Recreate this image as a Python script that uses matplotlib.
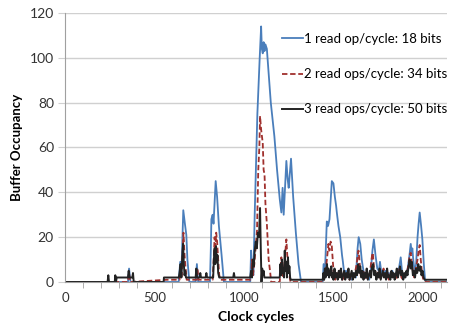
import numpy as np
import matplotlib.pyplot as plt

plt.rcParams['font.family'] = ['Lato', 'DejaVu Sans']

# series 1 : 1 read op/cycle (18 bits)
x1 = [0, 340, 352, 358, 366, 635, 644, 650, 661, 670, 678, 684, 695, 730, 737, 744,
      810, 815, 818, 825, 830, 842, 850, 860, 875, 888, 1035, 1040, 1046, 1053, 1060,
      1075, 1088, 1096, 1100, 1105, 1110, 1115, 1120, 1128, 1150, 1170, 1185, 1200,
      1209, 1216, 1222, 1237, 1244, 1250, 1263, 1275, 1290, 1305, 1319, 1440, 1445,
      1452, 1463, 1470, 1478, 1491, 1500, 1508, 1515, 1519, 1528, 1538, 1548, 1553,
      1560, 1570, 1580, 1590, 1600, 1610, 1625, 1635, 1641, 1650, 1658, 1668, 1680,
      1690, 1700, 1710, 1718, 1726, 1735, 1745, 1754, 1760, 1768, 1780, 1790, 1800,
      1810, 1820, 1829, 1840, 1850, 1860, 1868, 1876, 1884, 1895, 1905, 1915, 1925,
      1932, 1937, 1941, 1946, 1955, 1962, 1970, 1976, 1982, 1990, 1997, 2005, 2012,
      2020, 2130]
y1 = [0, 0, 0, 6, 0, 0, 9, 3, 32, 26, 21, 10, 0, 0, 8, 0,
      0, 15, 28, 30, 26, 45, 38, 25, 12, 0, 0, 14, 5, 3, 30,
      75, 100, 114, 104, 102, 107, 103, 106, 104, 80, 65, 50, 37,
      31, 42, 30, 54, 46, 42, 55, 38, 22, 8, 0, 0, 8,
      3, 27, 25, 28, 45, 44, 38, 34, 31, 25, 20, 12, 9,
      4, 5, 2, 3, 1, 4, 2, 15, 20, 17, 10, 5, 2,
      3, 1, 6, 14, 19, 12, 6, 5, 9, 4, 3, 5, 2,
      4, 3, 5, 2, 4, 3, 7, 11, 4, 2, 3, 6, 12,
      17, 13, 15, 10, 4, 8, 20, 26, 31, 25, 19, 8, 1,
      0, 0]

# series 2 : 2 read ops/cycle (34 bits)
x2 = [0, 350, 358, 364, 570, 640, 646, 652, 658, 662, 668, 672, 680, 735, 740, 746,
      825, 832, 836, 840, 845, 850, 856, 862, 870, 1035, 1040, 1045, 1050, 1058, 1065,
      1073, 1080, 1086, 1090, 1096, 1105, 1110, 1115, 1120, 1128, 1138, 1147, 1152,
      1200, 1204, 1209, 1214, 1220, 1228, 1234, 1237, 1242, 1248, 1254, 1260, 1445,
      1450, 1458, 1466, 1472, 1478, 1484, 1490, 1496, 1502, 1510, 1520, 1530, 1540,
      1550, 1560, 1570, 1580, 1590, 1600, 1610, 1620, 1630, 1636, 1640, 1646, 1652,
      1660, 1670, 1680, 1690, 1700, 1710, 1716, 1720, 1726, 1732, 1740, 1750, 1760,
      1770, 1780, 1790, 1800, 1810, 1820, 1830, 1840, 1850, 1860, 1870, 1880, 1890,
      1900, 1910, 1920, 1926, 1932, 1938, 1945, 1952, 1960, 1970, 1976, 1982, 1988,
      1995, 2002, 2010, 2130]
y2 = [0, 0, 4, 0, 1, 1, 5, 2, 14, 22, 12, 8, 1, 1, 6, 1,
      1, 12, 20, 14, 22, 18, 10, 3, 1, 1, 2, 10, 3, 8, 15,
      23, 50, 60, 74, 68, 62, 50, 48, 35, 26, 10, 4, 0,
      0, 6, 11, 5, 2, 10, 16, 19, 12, 6, 3, 0, 0,
      4, 6, 12, 17, 14, 18, 17, 10, 3, 1, 4, 2, 6,
      1, 3, 2, 5, 1, 3, 2, 4, 8, 12, 14, 9, 3,
      2, 5, 1, 3, 2, 8, 12, 13, 7, 3, 2, 5, 1,
      3, 6, 2, 3, 1, 4, 2, 3, 1, 4, 6, 2, 1,
      3, 4, 8, 12, 13, 8, 4, 2, 6, 10, 14, 16.5, 10,
      4, 1, 0, 0]

# series 3 : 3 read ops/cycle (50 bits)
x3 = [0, 238, 242, 246, 278, 281, 285, 289, 352, 356, 360, 376, 380, 384, 551, 553,
      636, 640, 646, 650, 656, 660, 664, 668, 672, 676, 730, 734, 738, 752, 756, 760,
      786, 790, 794, 828, 832, 836, 840, 844, 848, 852, 856, 862, 940, 944, 948, 1035,
      1040, 1045, 1050, 1055, 1060, 1066, 1072, 1078, 1084, 1090, 1094, 1098, 1102,
      1106, 1110, 1114, 1200, 1204, 1208, 1212, 1216, 1220, 1224, 1228, 1232, 1236,
      1240, 1246, 1250, 1254, 1258, 1262, 1440, 1444, 1448, 1452, 1456, 1460, 1464,
      1468, 1472, 1476, 1480, 1484, 1488, 1492, 1496,
      1500, 1506, 1512, 1518, 1524, 1530, 1536, 1542, 1548, 1554, 1560, 1566, 1572,
      1578, 1584, 1590, 1596, 1602, 1608, 1614, 1620, 1626, 1632, 1638, 1644, 1650,
      1656, 1662, 1668, 1674, 1680, 1686, 1692, 1698, 1704, 1710, 1716, 1722, 1728,
      1734, 1740, 1746, 1752, 1758, 1764, 1770, 1776, 1782, 1788, 1794, 1800, 1806,
      1812, 1818, 1824, 1830, 1836, 1842, 1848, 1854, 1860, 1866, 1872, 1878, 1884,
      1890, 1896, 1902, 1908, 1914, 1920, 1926, 1932, 1938, 1944, 1950, 1956, 1962,
      1968, 1974, 1980, 1986, 1992, 1998, 2004, 2010, 2130]
y3 = [0, 0, 3, 0, 0, 3, 0, 2, 2, 5, 2, 2, 4, 0, 0, 2,
      2, 4, 8, 2, 12, 17, 8, 3, 5, 2, 2, 6, 2, 2, 4, 2,
      2, 4, 2, 2, 10, 15, 8, 16, 9, 12, 4, 2, 2, 4, 2, 2,
      5, 2, 10, 7, 14, 18, 15, 22, 20, 33, 15, 0, 6,
      3, 5, 2, 2, 8, 3, 10, 4, 6, 2, 14, 5, 9,
      2, 11, 4, 7, 2, 1, 1, 4, 1, 6, 2, 5, 8,
      3, 6, 2, 5, 3, 7, 2, 4,
      1, 6, 2, 4, 1, 5, 2, 6, 1, 3, 5, 1, 4,
      2, 6, 1, 3, 5, 1, 4, 2, 5, 3, 8, 4, 7,
      2, 5, 1, 4, 2, 6, 1, 3, 5, 2, 7, 8, 3,
      5, 1, 4, 2, 6, 1, 3, 5, 2, 4, 1, 6, 2,
      3, 1, 5, 2, 4, 1, 3, 6, 2, 4, 7, 3, 5,
      1, 4, 2, 5, 3, 7, 10, 6, 9, 3, 5, 2, 6,
      4, 8, 5, 7, 3, 5, 2, 1, 1]

labels = ["1 read op/cycle: 18 bits", "2 read ops/cycle: 34 bits",
          "3 read ops/cycle: 50 bits"]

fig = plt.figure(figsize=(4.59, 3.29), dpi=100)
ax = fig.add_axes([0.1416, 0.1429, 0.974 - 0.1416, 0.9605 - 0.1429])

ax.plot(x1, y1, color='#4a7ebb', lw=1.3, label=labels[0])
ax.plot(x2, y2, color='#a0302d', lw=1.3, ls=(0, (3, 1.5)), label=labels[1])
ax.plot(x3, y3, color='#222222', lw=1.4, label=labels[2])

ax.set_xlim(0, 2135)
ax.set_ylim(0, 120)
ax.set_xticks([0, 500, 1000, 1500, 2000])
ax.set_xticks(np.arange(0, 2101, 100), minor=True)
ax.set_yticks([0, 20, 40, 60, 80, 100, 120])
ax.yaxis.grid(True, color='#d0d0d0', lw=1)
ax.set_axisbelow(True)
for s in ['top', 'right']:
    ax.spines[s].set_visible(False)
ax.spines['left'].set_color('#a0a0a0')
ax.spines['bottom'].set_color('#a0a0a0')
ax.tick_params(axis='y', length=5, color='#d0d0d0', labelsize=10, labelcolor='#333333', pad=3)
ax.tick_params(axis='x', which='major', length=0, labelsize=9.5, labelcolor='#333333', pad=7)
ax.tick_params(axis='x', which='minor', length=4, color='#a0a0a0')

ax.set_xlabel("Clock cycles", fontsize=10, fontweight='bold', labelpad=5)
ax.set_ylabel("Buffer Occupancy", fontsize=9.5, fontweight='bold', labelpad=5)

ax.legend(loc='upper left', bbox_to_anchor=(0.55, 0.95), frameon=False, fontsize=9.5,
          handlelength=1.6, handletextpad=0.1, labelspacing=1.75, borderpad=0)

fig.savefig("out.png", dpi=100)
